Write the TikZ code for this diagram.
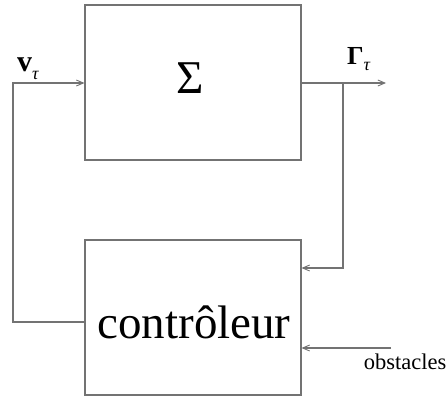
\documentclass[tikz,border=0pt]{standalone}
\usepackage{fontspec}
\setmainfont{Liberation Serif}
\usetikzlibrary{arrows.meta}
\newcommand{\subtau}{\raisebox{-0.25em}{\fontsize{18}{19}\selectfont\itshape τ}}
\begin{document}
\begin{tikzpicture}[x=1pt,y=-1pt,
  wire/.style={draw=black!55,line width=1.1pt},
  tip/.style={-{Straight Barb[length=7pt,width=6pt,line width=0.9pt]}},
  blockbox/.style={draw=black!55,line width=1.1pt,minimum width=216pt,inner sep=0pt}]
\useasboundingbox (0,0) rectangle (447,396);
\node[blockbox,minimum height=155pt] (sys) at (193,82.5) {};
\node[font=\fontsize{47}{50}\selectfont,inner sep=0pt] at (190,78) {Σ};
\node[blockbox,minimum height=155pt] (ctrl) at (193,317.5) {};
\node[font=\fontsize{47}{50}\selectfont] at (194,322) {contrôleur};
\coordinate (l1) at (13,322);
\coordinate (l2) at (13,83);
\draw[wire,tip] (ctrl.west |- l1) -- (l1) -- (l2) -- (sys.west |- l2);
\coordinate (out) at (386,83);
\coordinate (br) at (343,83);
\coordinate (br2) at (343,268);
\draw[wire,tip] (sys.east |- out) -- (out);
\draw[wire,tip] (br) -- (br2) -- (ctrl.east |- br2);
\coordinate (obs) at (391,348);
\draw[wire,tip] (obs) -- (ctrl.east |- obs);
\node[anchor=east,font=\fontsize{22.5}{24}\selectfont,inner sep=0pt] at (446.5,362) {obstacles};
\node[font=\fontsize{30}{32}\selectfont,inner sep=0pt,anchor=base west] at (17,72) {\textbf{v}\subtau};
\node[font=\fontsize{26}{28}\selectfont,inner sep=0pt,anchor=base west] at (347,64) {\textbf{Γ}\subtau};
\end{tikzpicture}
\end{document}
